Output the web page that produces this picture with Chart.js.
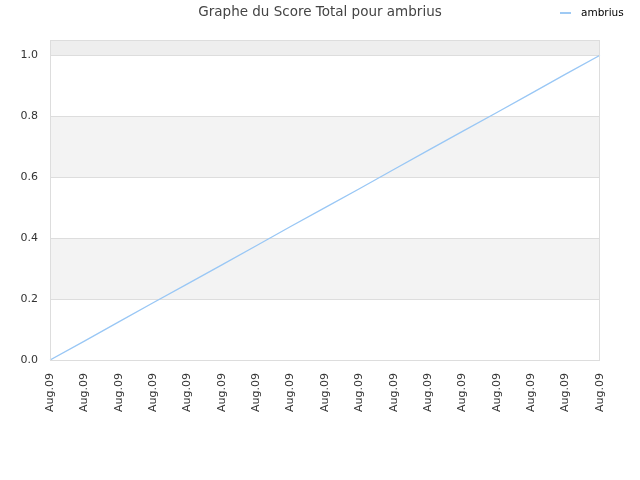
<!DOCTYPE html>
<html>
<head>
<meta charset="utf-8">
<script src="https://cdn.jsdelivr.net/npm/chart.js@4/dist/chart.umd.min.js"></script>
<style>
  body { margin: 0; background: #fff; }
  #wrap { position: relative; width: 640px; height: 480px; }
  #legend { position: absolute; left: 560px; top: 6px; font: 10.5px "DejaVu Sans", sans-serif; color: #000; }
  #legend span { display: inline-block; width: 11px; height: 0; border-top: 2px solid #9fcaf4; vertical-align: middle; margin-right: 10px; }
</style>
</head>
<body>
<div id="wrap">
  <canvas id="scoreChart" width="640" height="480"></canvas>
  <div id="legend"><span></span>ambrius</div>
</div>
<script>
const labels = ["Aug.09", "Aug.09", "Aug.09", "Aug.09", "Aug.09", "Aug.09", "Aug.09", "Aug.09", "Aug.09",
                "Aug.09", "Aug.09", "Aug.09", "Aug.09", "Aug.09", "Aug.09", "Aug.09", "Aug.09"];
const scores = [0, 0.062, 0.125, 0.188, 0.25, 0.312, 0.375, 0.438, 0.5,
                0.562, 0.625, 0.688, 0.75, 0.812, 0.875, 0.938, 1.0];
const yTicks = [0, 0.2, 0.4, 0.6, 0.8, 1.0];

// gray bands behind the plot
const bands = {
    id: "bands",
    beforeDraw(chart) {
        const { ctx, chartArea: a, scales: { y } } = chart;
        ctx.save();
        const fill = (from, to, color) => {
            const top = y.getPixelForValue(to);
            const bot = y.getPixelForValue(from);
            ctx.fillStyle = color;
            ctx.fillRect(a.left, top, a.right - a.left, bot - top);
        };
        fill(0.2, 0.4, "#f3f3f3");
        fill(0.6, 0.8, "#f3f3f3");
        fill(1.0, y.max, "#eeeeee");
        ctx.restore();
    },
    afterDatasetsDraw(chart) {
        const { ctx, chartArea: a } = chart;
        ctx.save();
        ctx.strokeStyle = "#dddddd";
        ctx.lineWidth = 1;
        ctx.strokeRect(a.left + 0.5, a.top + 0.5, a.right - a.left - 1, a.bottom - a.top);
        ctx.restore();
    }
};

new Chart(document.getElementById("scoreChart"), {
    type: "line",
    data: {
        labels: labels,
        datasets: [{
            label: "ambrius",
            data: scores,
            borderColor: "#99c7f5",
            borderWidth: 1.3,
            pointRadius: 0,
            fill: false,
            tension: 0
        }]
    },
    options: {
        responsive: false,
        animation: false,
        layout: { padding: 0 },
        plugins: {
            legend: { display: false },
            tooltip: { enabled: false },
            title: {
                display: true,
                text: "Graphe du Score Total pour ambrius",
                color: "#444",
                font: { family: "DejaVu Sans", size: 13.5, weight: "normal" },
                padding: { top: 4, bottom: 19.8 }
            }
        },
        scales: {
            x: {
                offset: false,
                grid: { display: false },
                border: { display: false },
                ticks: {
                    autoSkip: false,
                    minRotation: 90,
                    maxRotation: 90,
                    padding: 5,
                    color: "#333",
                    font: { family: "DejaVu Sans", size: 11 }
                },
                afterFit(s) { s.height = 120; }
            },
            y: {
                min: 0,
                max: 1.05,
                afterBuildTicks(s) { s.ticks = yTicks.map(v => ({ value: v })); },
                grid: { color: "#dddddd", drawTicks: false },
                border: { display: false },
                ticks: {
                    padding: 12,
                    color: "#333",
                    font: { family: "DejaVu Sans", size: 11 },
                    callback: v => v.toFixed(1)
                },
                afterFit(s) { s.width = 50; }
            },
            // empty right-hand axis, only reserves the margin
            yRight: {
                position: "right",
                grid: { display: false },
                border: { display: false },
                ticks: { display: false },
                afterFit(s) { s.width = 40; }
            }
        }
    },
    plugins: [bands]
});
</script>
</body>
</html>
